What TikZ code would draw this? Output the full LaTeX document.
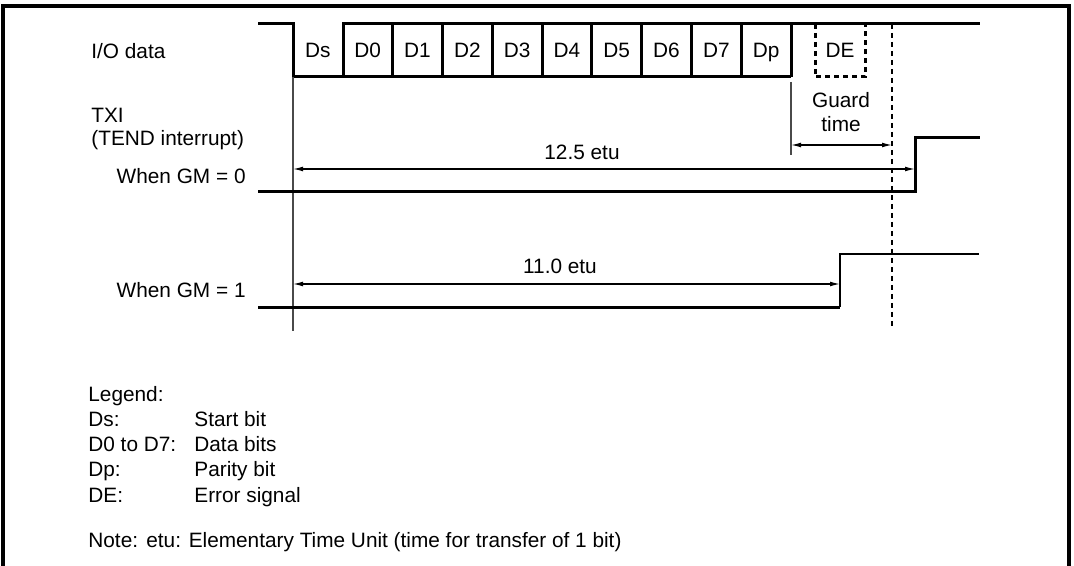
\documentclass[tikz,border=0pt]{standalone}
\usepackage{fontspec}
\setmainfont{Liberation Sans}
\usetikzlibrary{arrows.meta,positioning,calc}
\definecolor{ink}{HTML}{000000}
\definecolor{guide}{HTML}{4A4A4A}
\tikzset{
  frame/.style={ink, line width=1.7pt},
  sig/.style={ink, line width=1.5pt},
  sigthin/.style={ink, line width=1pt},
  dsig/.style={ink, line width=1.5pt, dash pattern=on 2.5pt off 2pt},
  guideln/.style={guide, line width=1pt},
  cutln/.style={ink, line width=0.75pt, dash pattern=on 2.5pt off 2pt},
  dim/.style={{Latex[length=5pt,width=2.4pt]}-{Latex[length=5pt,width=2.4pt]}, line width=0.6pt},
  lbl/.style={inner sep=0pt, text height=0.72em, text depth=0.2em, font=\fontsize{10.4}{12}\selectfont},
}
\newcommand{\bitw}{49.8}

\begin{document}
\begin{tikzpicture}[x=0.5pt,y=-0.5pt]
  \useasboundingbox (0,0) rectangle (1074,566);
  \draw[frame] (3,566) -- (3,6) -- (1069,6) -- (1069,566);
  % I/O data
  \draw[sig] (258,24) -| (293,77) -- (791,77);
  \draw[sig] (343,77) |- (980,24);
  \foreach \i in {2,...,10} \draw[sig] ({293+\bitw*\i},24) -- ({293+\bitw*\i},77);
  \foreach [count=\i from 0] \b in {Ds,D0,D1,D2,D3,D4,D5,D6,D7,Dp}
    \node[lbl] (bit\i) at ({293+\bitw*(\i+0.5)},52) {\b};
  \draw[dsig] (815,24) -- (815,77) -- (865,77) -- (865,24);
  \node[lbl] (de) at (840,52) {DE};
  % guide lines
  \draw[guideln] (293,77) -- (293,331);
  \draw[guideln] (791,82) -- (791,155);
  \draw[cutln] (892,24) -- (892,326);
  % guard time
  \node[lbl] (guard) at (841,102) {Guard};
  \node[lbl] (gtime) at (841,126) {time};
  \coordinate (g0) at (791,145);
  \coordinate (g1) at (892,145);
  \draw[dim] (g0) -- (g1);
  % TXI when GM = 0
  \draw[sig] (258,192) -| (915,138) -- (980,138);
  \coordinate (a0) at (293,169);
  \coordinate (a1) at (915,169);
  \draw[dim] (a0) -- (a1);
  \node[lbl] (t125) at (582,154) {12.5 etu};
  % TXI when GM = 1
  \draw[sig] (258,307) -- (840,307);
  \draw[sigthin] (840,307) |- (979,254);
  \coordinate (c0) at (293,284);
  \coordinate (c1) at (840,284);
  \draw[dim] (c0) -- (c1);
  \node[lbl] (t110) at (560,268) {11.0 etu};
  % row labels
  \node[lbl, anchor=west] (io) at (91,53) {I/O data};
  \node[lbl, anchor=west] (txi) at (91,117) {TXI};
  \node[lbl, anchor=west] (tend) at (91,140) {(TEND interrupt)};
  \node[lbl, anchor=east] (gm0) at (246,178) {When GM = 0};
  \node[lbl, anchor=east] (gm1) at (246,292) {When GM = 1};
  % legend
  \node[lbl, anchor=west] (leg) at (88,396) {Legend:};
  \foreach [count=\i] \k/\v in {Ds:/Start bit, D0 to D7:/Data bits, Dp:/Parity bit, DE:/Error signal}{
    \node[lbl, anchor=west] (key\i) at (88,{396+25.2*\i}) {\k};
    \node[lbl, anchor=west] (val\i) at (194,{396+25.2*\i}) {\v};}
  \node[lbl, anchor=west] (note) at (88,542) {Note:};
  \node[lbl, anchor=west] (etu) at (146,542) {etu: Elementary Time Unit (time for transfer of 1 bit)};
\end{tikzpicture}
\end{document}
